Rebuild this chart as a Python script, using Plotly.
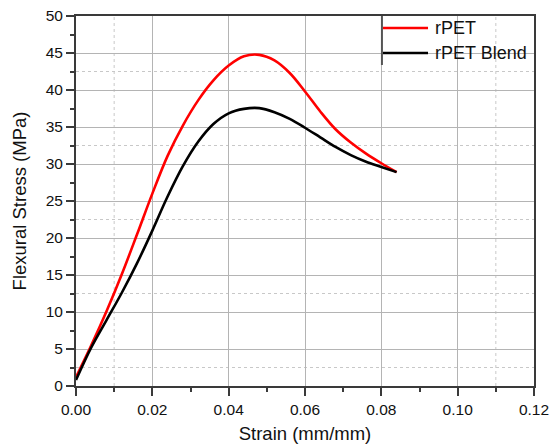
import plotly.graph_objects as go

# Flexural stress-strain curves (strain sampled every 0.004 mm/mm)
strain = [0.000, 0.004, 0.008, 0.012, 0.016, 0.020, 0.024, 0.028, 0.032, 0.036,
          0.040, 0.044, 0.048, 0.052, 0.056, 0.060, 0.064, 0.068, 0.072, 0.076,
          0.080, 0.084]
rpet_stress = [1.2, 5.5, 10.1, 15.1, 20.5, 26.0, 31.1, 35.2, 38.6, 41.3,
               43.3, 44.55, 44.75, 44.0, 42.3, 39.8, 37.1, 34.7, 32.9, 31.4,
               30.1, 28.9]
blend_stress = [0.8, 5.2, 8.9, 12.6, 16.6, 21.0, 25.6, 29.7, 33.0, 35.4,
                36.85, 37.45, 37.55, 37.0, 36.1, 34.9, 33.6, 32.3, 31.2, 30.3,
                29.6, 28.9]

series_names = ["rPET", "rPET Blend"]
series_colors = ["#ff0000", "#000000"]

x_ticks = [0.00, 0.02, 0.04, 0.06, 0.08, 0.10, 0.12]
y_ticks = [0, 5, 10, 15, 20, 25, 30, 35, 40, 45, 50]
minor_grid_x = [0.01, 0.11]
minor_grid_y = [2.5, 12.5, 22.5, 32.5, 42.5]

FONT = "Liberation Sans, Arial, sans-serif"
AXIS_COLOR = "#3a3a3a"
TEXT_COLOR = "#111111"

fig = go.Figure()
for name, color, ys in zip(series_names, series_colors, [rpet_stress, blend_stress]):
    fig.add_trace(go.Scatter(x=strain, y=ys, mode="lines", name=name,
                             line=dict(color=color, width=2.6, shape="spline", smoothing=1.0),
                             showlegend=False))

# dotted minor grid
for v in minor_grid_x:
    fig.add_shape(type="line", xref="x", yref="paper", x0=v, x1=v, y0=0, y1=1,
                  line=dict(color="#c8c8c8", width=1, dash="dot"), layer="below")
for v in minor_grid_y:
    fig.add_shape(type="line", xref="paper", yref="y", x0=0, x1=1, y0=v, y1=v,
                  line=dict(color="#c8c8c8", width=1, dash="dot"), layer="below")

# legend box (left edge) with line samples and labels
fig.add_shape(type="line", xref="paper", yref="paper", x0=0.668, x1=0.668, y0=0.8676, y1=1.0,
              line=dict(color="#555555", width=2))
legend_y = [0.9676, 0.9]
for name, color, ly in zip(series_names, series_colors, legend_y):
    fig.add_shape(type="line", xref="paper", yref="paper", x0=0.6703, x1=0.7686, y0=ly, y1=ly,
                  line=dict(color=color, width=2.6))
    fig.add_annotation(xref="paper", yref="paper", x=0.7795, y=ly, text=name, showarrow=False,
                       xanchor="left", yanchor="middle",
                       font=dict(family=FONT, size=18, color=TEXT_COLOR))

axis_common = dict(
    showline=True, linecolor=AXIS_COLOR, linewidth=2, mirror=True,
    showgrid=True, gridcolor="#b4b4b4", gridwidth=1.2, griddash="solid",
    ticks="outside", ticklen=8, tickwidth=2, tickcolor=AXIS_COLOR,
    tickfont=dict(family=FONT, size=15.5, color=TEXT_COLOR),
    zeroline=False, automargin=False,
)

fig.update_xaxes(
    range=[0, 0.12], tickvals=x_ticks, tickformat=".2f",
    minor=dict(dtick=0.01, ticks="outside", ticklen=4, tickwidth=2, tickcolor=AXIS_COLOR, showgrid=False),
    title=dict(text="Strain (mm/mm)", font=dict(family=FONT, size=18.5, color=TEXT_COLOR), standoff=10),
    **axis_common,
)
fig.update_yaxes(
    range=[0, 50], tickvals=y_ticks,
    minor=dict(dtick=2.5, ticks="outside", ticklen=4, tickwidth=2, tickcolor=AXIS_COLOR, showgrid=False),
    title=dict(text="Flexural Stress (MPa)", font=dict(family=FONT, size=18.5, color=TEXT_COLOR), standoff=14),
    **axis_common,
)

fig.update_layout(
    width=552, height=445,
    margin=dict(l=76, r=18, t=16, b=59),
    paper_bgcolor="white", plot_bgcolor="white",
    showlegend=False,
)

fig.write_html("out.html")
